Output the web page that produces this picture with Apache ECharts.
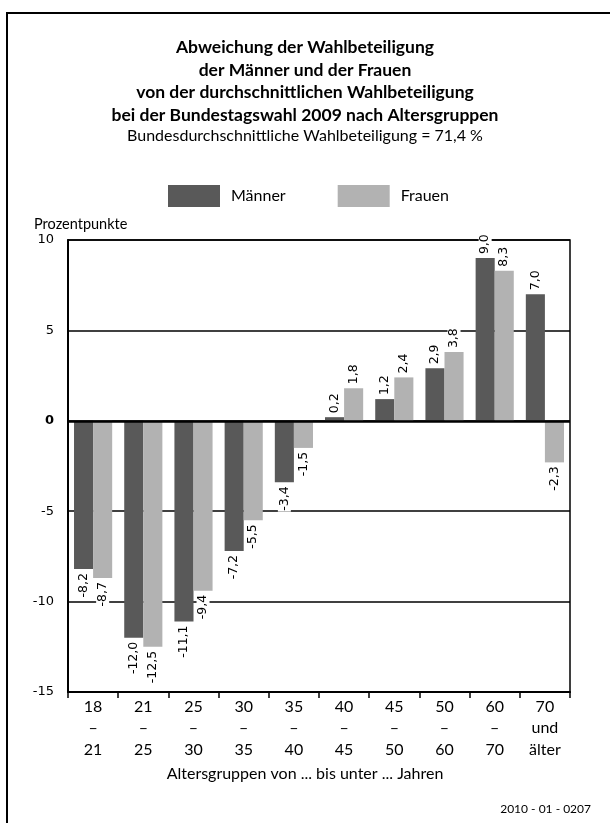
<!DOCTYPE html>
<html><head><meta charset="utf-8">
<script src="https://cdn.jsdelivr.net/npm/echarts@6/dist/echarts.min.js"></script>
<style>html,body{margin:0;padding:0;background:#fff}#c{width:610px;height:823px}</style>
</head><body><div id="c"></div>
<script>
const categories = ['18\n–\n21','21\n–\n25','25\n–\n30','30\n–\n35','35\n–\n40','40\n–\n45','45\n–\n50','50\n–\n60','60\n–\n70','70\nund\nälter'];
const maenner = [-8.2, -12.0, -11.1, -7.2, -3.4, 0.2, 1.2, 2.9, 9.0, 7.0];
const frauen = [-8.7, -12.5, -9.4, -5.5, -1.5, 1.8, 2.4, 3.8, 8.3, -2.3];
const yTicks = [-15, -10, -5, 0, 5, 10];

const FONT = 'Lato, "Open Sans", sans-serif';
const LFONT = '"DejaVu Sans", Verdana, sans-serif';
const fmt = v => v.toFixed(1).replace('.', ',');
function items(arr){
  return arr.map(v => ({
    value: v,
    label: {
      show: true, rotate: 90,
      position: v >= 0 ? 'top' : 'bottom',
      align: v >= 0 ? 'left' : 'right',
      verticalAlign: 'middle',
      distance: 3,
      formatter: () => fmt(v),
      fontFamily: LFONT, fontSize: 12.5, color: '#000',
      backgroundColor: '#fff', padding: [0, 1, 0, 1]
    }
  }));
}
const chart = echarts.init(document.getElementById('c'), null, {renderer: 'canvas'});
chart.setOption({
  animation: false,
  backgroundColor: '#fff',
  title: [{
    text: 'Abweichung der Wahlbeteiligung\nder Männer und der Frauen\nvon der durchschnittlichen Wahlbeteiligung\nbei der Bundestagswahl 2009 nach Altersgruppen',
    left: 'center', top: 31,
    textStyle: {fontFamily: FONT, fontWeight: 'bold', fontSize: 17.5, lineHeight: 22.7, color: '#000'},
    subtext: 'Bundesdurchschnittliche Wahlbeteiligung = 71,4 %',
    subtextStyle: {fontFamily: FONT, fontSize: 16, color: '#000', lineHeight: 20},
    itemGap: -1
  }, {
    text: 'Altersgruppen von ... bis unter ... Jahren', left: 'center', top: 761,
    textStyle: {fontFamily: FONT, fontSize: 16, fontWeight: 'normal', color: '#000'}
  }, {
    text: '2010 - 01 - 0207', right: 14, top: 798,
    textStyle: {fontFamily: FONT, fontSize: 12, fontWeight: 'normal', color: '#000'}
  }],
  legend: {
    left: 163, top: 180, itemWidth: 52, itemHeight: 22, itemGap: 52,
    textStyle: {fontFamily: FONT, fontSize: 16, color: '#000', padding: [0, 0, 0, 6]},
    icon: 'rect',
    data: ['Männer', 'Frauen']
  },
  grid: {left: 68, right: 40, top: 240, bottom: 131, show: true, borderColor: '#000', borderWidth: 1.5, containLabel: false},
  xAxis: {
    type: 'category', data: categories,
    boundaryGap: true,
    axisLine: {show: true, onZero: false, lineStyle: {color: '#000', width: 2}},
    axisTick: {show: true, length: 6, lineStyle: {color: '#000', width: 1.5}},
    axisLabel: {fontFamily: FONT, fontSize: 16, color: '#000', lineHeight: 21.5, margin: 4, interval: 0}
  },
  yAxis: {
    type: 'value', min: yTicks[0], max: yTicks[yTicks.length-1], interval: 5,
    name: 'Prozentpunkte', nameLocation: 'end', nameGap: 8,
    nameTextStyle: {fontFamily: FONT, fontSize: 14.5, color: '#000', align: 'left', padding: [0, 0, 0, -34]},
    axisLine: {show: true, lineStyle: {color: '#000', width: 2}},
    axisTick: {show: false},
    axisLabel: {fontFamily: LFONT, fontSize: 13, color: '#000', margin: 14,
      formatter: v => v === 0 ? '{b|0}' : String(v),
      rich: {b: {fontFamily: LFONT, fontSize: 13, fontWeight: 'bold', color: '#000'}}},
    splitLine: {show: true, lineStyle: {color: '#000', width: 1.5}}
  },
  series: [{
    name: 'Männer', type: 'bar', data: items(maenner),
    itemStyle: {color: '#595959'}, barGap: '0%', barCategoryGap: '24%',
    markLine: {silent: true, symbol: 'none', label: {show: false},
      lineStyle: {color: '#000', width: 2.5, type: 'solid'}, data: [{yAxis: 0}]}
  }, {
    name: 'Frauen', type: 'bar', data: items(frauen),
    itemStyle: {color: '#b2b2b2'}, barGap: '0%', barCategoryGap: '24%'
  }],
  graphic: [{
    type: 'rect', shape: {x: 7, y: 13, width: 650, height: 850},
    style: {fill: 'none', stroke: '#000', lineWidth: 2}, silent: true, z: 100
  }]
});
</script></body></html>
